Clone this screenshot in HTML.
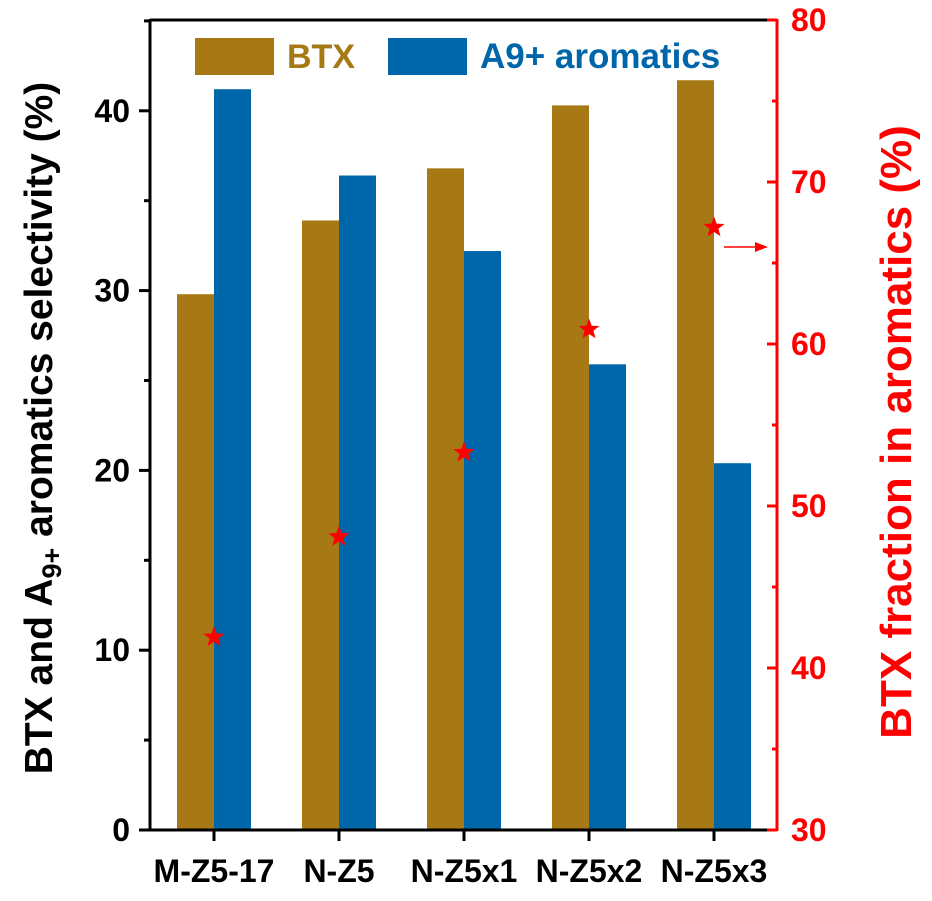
<!DOCTYPE html>
<html><head><meta charset="utf-8"><style>
body{margin:0;background:#fff}
svg{font-family:"Liberation Sans",Arial,sans-serif;font-weight:bold}
</style></head><body>
<svg id="c" width="932" height="896"></svg>
<script>
const categories=["M-Z5-17","N-Z5","N-Z5x1","N-Z5x2","N-Z5x3"];
const btxValues=[29.8,33.9,36.8,40.3,41.7];
const a9Values=[41.2,36.4,32.2,25.9,20.4];
const btxFraction=[41.9,48.1,53.3,60.9,67.2];
const leftTicks=[0,10,20,30,40];
const rightTicks=[30,40,50,60,70,80];
const L=150,R=777,T=20,B=830;
const yL=v=>B-(v/45.05)*(B-T);
const yR=v=>B-((v-30)/50)*(B-T);
const xC=i=>214+i*125;
const bw=37;
const svg=document.getElementById('c');
const NS='http://www.w3.org/2000/svg';
function mk(tag,attrs,txt){const e=document.createElementNS(NS,tag);for(const k in attrs)e.setAttribute(k,attrs[k]);if(txt!==undefined)e.textContent=txt;svg.appendChild(e);return e;}
categories.forEach((c,i)=>{
  let b=mk('rect',{x:xC(i)-bw,y:yL(btxValues[i]),width:bw,height:B-yL(btxValues[i]),fill:'#a67915'});
  
  
  let a=mk('rect',{x:xC(i),y:yL(a9Values[i]),width:bw,height:B-yL(a9Values[i]),fill:'#0066aa'});
  
  
  let t=mk('text',{x:xC(i),y:882,'font-size':32,'text-anchor':'middle',fill:'#000'},c);
  
  
  mk('line',{x1:xC(i),x2:xC(i),y1:B,y2:B+11,stroke:'#000','stroke-width':3});
});
mk('line',{x1:L,x2:R,y1:T,y2:T,stroke:'#000','stroke-width':3});
mk('line',{x1:L-1,x2:R,y1:B,y2:B,stroke:'#000','stroke-width':3});
mk('line',{x1:L,x2:L,y1:T-1,y2:B+1,stroke:'#000','stroke-width':3});
mk('line',{x1:R,x2:R,y1:T-1,y2:B+1,stroke:'#f00','stroke-width':3});
for(let v=0;v<=45;v+=5){const maj=v%10===0;mk('line',{x1:L-(maj?11:6),x2:L,y1:yL(v),y2:yL(v),stroke:'#000','stroke-width':3});}
leftTicks.forEach(v=>{let t=mk('text',{x:130,y:yL(v)+11,'font-size':32,'text-anchor':'end'},v);});
for(let v=30;v<=80;v+=5){const maj=v%10===0;mk('line',{x1:R-(maj?10:5),x2:R,y1:yR(v),y2:yR(v),stroke:'#f00','stroke-width':3});}
rightTicks.forEach(v=>{let t=mk('text',{x:791,y:yR(v)+11,'font-size':32,fill:'#f00'},v);});
function star(cx,cy,r){let p=[];for(let k=0;k<10;k++){const rr=k%2?r*0.42:r;const a=-Math.PI/2+k*Math.PI/5;p.push((cx+rr*Math.cos(a)).toFixed(1)+','+(cy+rr*Math.sin(a)).toFixed(1));}return p.join(' ');}
btxFraction.forEach((v,i)=>{let s=mk('polygon',{points:star(xC(i),yR(v),11),fill:'#f00'});});
mk('line',{x1:724,x2:758,y1:247,y2:247,stroke:'#f00','stroke-width':1.5});
mk('polygon',{points:'768,247 755,242 755,252',fill:'#f00'});
let l1=mk('rect',{x:195,y:38,width:79,height:37,fill:'#a67915'});
let l2=mk('text',{x:287,y:68,'font-size':34,fill:'#a67915'},'BTX');
let l3=mk('rect',{x:388,y:38,width:79,height:37,fill:'#0066aa'});
let l4=mk('text',{x:480,y:68,'font-size':35,fill:'#0066aa'},'A9+ aromatics');
let yt=mk('text',{transform:'translate(52,428) rotate(-90)','font-size':39,'text-anchor':'middle'});
yt.innerHTML='BTX and A<tspan font-size="27" dy="9">9+</tspan><tspan dy="-9"> aromatics selectivity (%)</tspan>';

let rt=mk('text',{transform:'translate(911,432) rotate(-90)','font-size':44,'text-anchor':'middle',fill:'#f00'},'BTX fraction in aromatics (%)');

</script>
</body></html>
